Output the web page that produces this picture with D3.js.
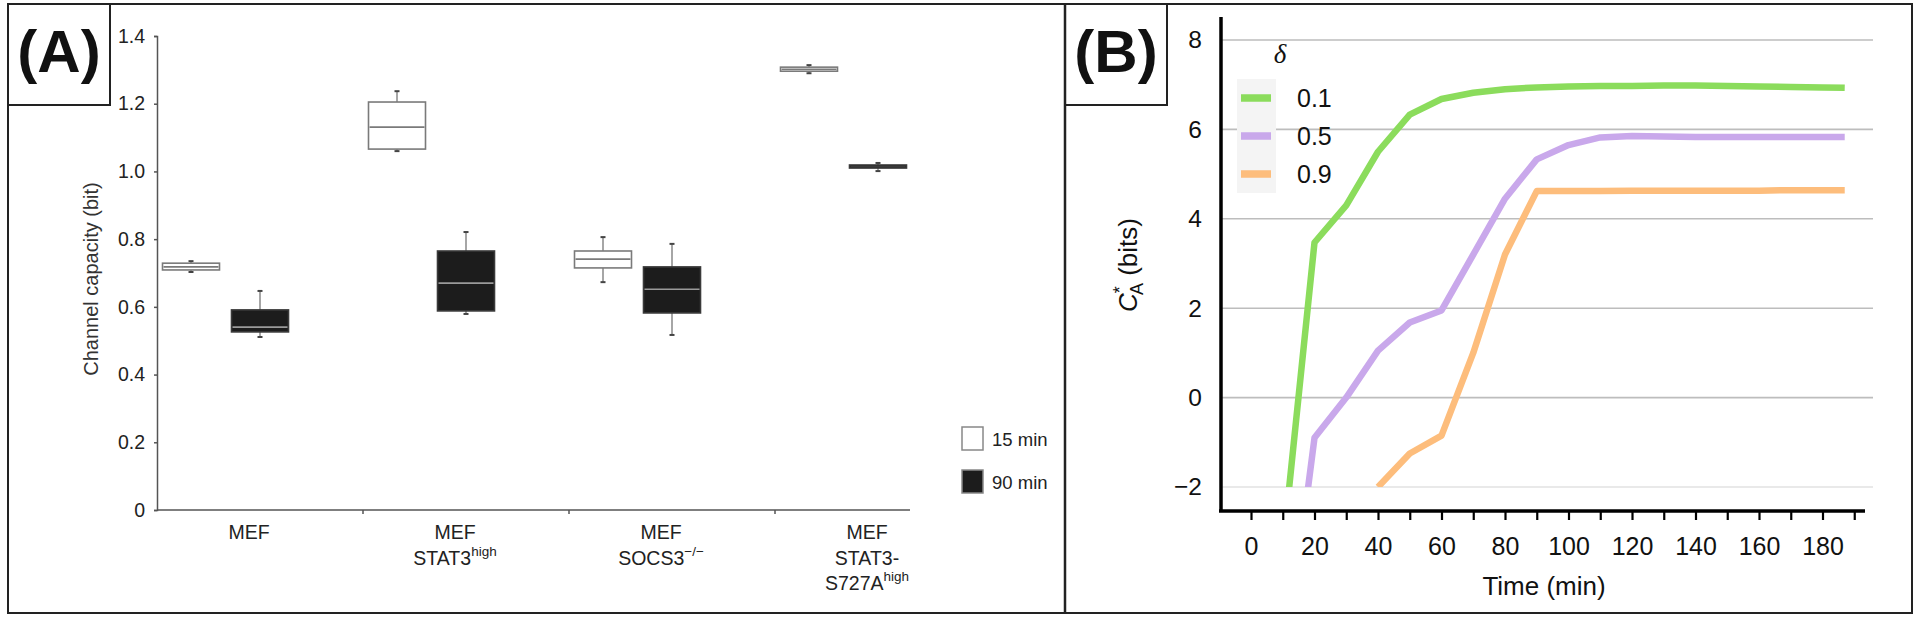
<!DOCTYPE html>
<html>
<head>
<meta charset="UTF-8">
<title>Channel capacity</title>
<script src="https://d3js.org/d3.v7.min.js"></script>
<style>
  body { margin: 0; background: #fff; }
  svg { display: block; font-family: "Liberation Sans", Arial, sans-serif; }
</style>
</head>
<body>
<div id="chart"></div>
<script>
// ---- panel A data: box stats [whisker low, q1, median, q3, whisker high]
const categories = ["MEF", "MEF STAT3high", "MEF SOCS3-/-", "MEF STAT3-S727Ahigh"];
const categoryLines = [
  [["MEF", ""]],
  [["MEF", ""], ["STAT3", "high"]],
  [["MEF", ""], ["SOCS3", "\u2212/\u2212"]],
  [["MEF", ""], ["STAT3-", ""], ["S727A", "high"]]
];
const timepoints = ["15 min", "90 min"];
const box15 = [
  [0.703, 0.709, 0.718, 0.729, 0.735],
  [1.060, 1.066, 1.131, 1.205, 1.237],
  [0.673, 0.715, 0.741, 0.765, 0.806],
  [1.290, 1.296, 1.302, 1.308, 1.314]
];
const box90 = [
  [0.511, 0.526, 0.540, 0.591, 0.647],
  [0.579, 0.588, 0.670, 0.765, 0.821],
  [0.517, 0.582, 0.652, 0.718, 0.786],
  [1.001, 1.010, 1.014, 1.019, 1.025]
];
const yTicksA = [0, 0.2, 0.4, 0.6, 0.8, 1.0, 1.2, 1.4];

// ---- panel B data
const times = [10, 20, 30, 40, 50, 60, 70, 80, 90, 100, 110, 120, 130, 140, 150, 160, 170, 180, 187];
const deltas = ["0.1", "0.5", "0.9"];
const capD01 = [-3.4, 3.47, 4.3, 5.5, 6.33, 6.68, 6.82, 6.9, 6.94, 6.96, 6.97, 6.97, 6.98, 6.98, 6.97, 6.96, 6.95, 6.94, 6.93];
const capD05 = [-6.4, -0.9, 0.0, 1.05, 1.68, 1.95, 3.2, 4.45, 5.33, 5.65, 5.82, 5.85, 5.84, 5.83, 5.83, 5.83, 5.83, 5.83, 5.83];
const capD09 = [null, null, null, -2.0, -1.25, -0.85, 1.0, 3.2, 4.62, 4.62, 4.62, 4.63, 4.63, 4.63, 4.63, 4.63, 4.64, 4.64, 4.64];
const lineColors = ["#8bdc5c", "#c9a8eb", "#fdbd7c"];
const yTicksB = [-2, 0, 2, 4, 6, 8];
const xTicksB = d3.range(0, 191, 10);

const W = 1920, H = 619;
const svg = d3.select("#chart").append("svg").attr("width", W).attr("height", H);

// ================= Panel A =================
const yA = d3.scaleLinear().domain([0, 1.4]).range([510, 36]);
const xA = d3.scaleBand().domain(categories).range([157, 981]);
const xSub = d3.scaleBand().domain(timepoints).range([5.5, 131.5]).paddingInner(12 / 69);

const gA = svg.append("g");

// y axis
gA.append("g")
  .attr("transform", "translate(157,0)")
  .call(d3.axisLeft(yA).tickValues(yTicksA).tickSize(3).tickPadding(9)
    .tickFormat(d => d === 0 ? "0" : d3.format(".1f")(d)))
  .call(g => g.select(".domain").attr("stroke", "#555").attr("stroke-width", 1.5))
  .call(g => g.selectAll(".tick line").attr("stroke", "#555").attr("stroke-width", 1.5))
  .call(g => g.selectAll(".tick text").attr("font-size", 19.5).attr("fill", "#222")
    .attr("font-family", "Liberation Sans, Arial, sans-serif"));

// x axis line and band ticks
gA.append("line").attr("x1", 157).attr("x2", 910).attr("y1", 510).attr("y2", 510)
  .attr("stroke", "#555").attr("stroke-width", 1.5);
gA.selectAll("line.bt").data(categories.slice(1)).join("line")
  .attr("class", "bt")
  .attr("x1", d => xA(d)).attr("x2", d => xA(d))
  .attr("y1", 510).attr("y2", 514)
  .attr("stroke", "#555").attr("stroke-width", 1.5);

// category labels
categories.forEach((c, i) => {
  const t = gA.append("text")
    .attr("text-anchor", "middle")
    .attr("font-size", 19.5).attr("fill", "#222");
  categoryLines[i].forEach((ln, j) => {
    const cx = xA(c) + xA.bandwidth() / 2 - 11;
    t.append("tspan").attr("x", cx).attr("y", 539 + j * 25.5).text(ln[0]);
    if (ln[1]) {
      t.append("tspan").attr("font-size", 13.5).attr("dy", -9).text(ln[1]);
    }
  });
});

// y label
gA.append("text")
  .attr("transform", "translate(98,279) rotate(-90)")
  .attr("text-anchor", "middle")
  .attr("font-size", 20).attr("fill", "#333")
  .text("Channel capacity (bit)");

// boxes
const boxSets = [box15, box90];
const boxStyle = [
  { fill: "#fff", stroke: "#7a7a7a", med: "#7a7a7a" },
  { fill: "#1c1c1c", stroke: "#3a3a3a", med: "#9a9a9a" }
];
timepoints.forEach((tp, k) => {
  const data = categories.map((c, i) => ({ c, s: boxSets[k][i] }));
  const g = gA.append("g");
  const bw = xSub.bandwidth();
  const cx = d => xA(d.c) + xSub(tp) + bw / 2;
  g.selectAll("line.wh").data(data).join("line")
    .attr("x1", cx).attr("x2", cx)
    .attr("y1", d => yA(d.s[0])).attr("y2", d => yA(d.s[4]))
    .attr("stroke", "#888").attr("stroke-width", 1.5);
  g.selectAll("line.capL").data(data).join("line")
    .attr("x1", d => cx(d) - 2.5).attr("x2", d => cx(d) + 2.5)
    .attr("y1", d => yA(d.s[0])).attr("y2", d => yA(d.s[0]))
    .attr("stroke", "#444").attr("stroke-width", 2);
  g.selectAll("line.capH").data(data).join("line")
    .attr("x1", d => cx(d) - 2.5).attr("x2", d => cx(d) + 2.5)
    .attr("y1", d => yA(d.s[4])).attr("y2", d => yA(d.s[4]))
    .attr("stroke", "#444").attr("stroke-width", 2);
  g.selectAll("rect").data(data).join("rect")
    .attr("x", d => xA(d.c) + xSub(tp)).attr("width", bw)
    .attr("y", d => yA(d.s[3])).attr("height", d => yA(d.s[1]) - yA(d.s[3]))
    .attr("fill", boxStyle[k].fill).attr("stroke", boxStyle[k].stroke).attr("stroke-width", 1.6);
  g.selectAll("line.med").data(data).join("line")
    .attr("x1", d => xA(d.c) + xSub(tp) + 1).attr("x2", d => xA(d.c) + xSub(tp) + bw - 1)
    .attr("y1", d => yA(d.s[2])).attr("y2", d => yA(d.s[2]))
    .attr("stroke", d => (yA(d.s[1]) - yA(d.s[3]) < 6) ? boxStyle[k].stroke : boxStyle[k].med)
    .attr("stroke-width", 1.6);
});

// legend A
timepoints.forEach((tp, k) => {
  const y0 = 427 + k * 43;
  gA.append("rect").attr("x", 962).attr("y", y0).attr("width", 21).attr("height", 23)
    .attr("fill", boxStyle[k].fill).attr("stroke", "#888").attr("stroke-width", 1.5);
  gA.append("text").attr("x", 992).attr("y", y0 + 19)
    .attr("font-size", 18.5).attr("fill", "#222").text(tp);
});

// ================= Panel B =================
const xB = d3.scaleLinear().domain([0, 180]).range([1251, 1822.5]);
const yB = d3.scaleLinear().domain([-2, 8]).range([487, 40]);
const gB = svg.append("g");

// grid
gB.selectAll("line.grid").data(yTicksB).join("line")
  .attr("x1", 1221).attr("x2", 1873)
  .attr("y1", d => yB(d)).attr("y2", d => yB(d))
  .attr("stroke", d => d === -2 ? "#e2e2e2" : "#bdbdbd").attr("stroke-width", 1.6);

// lines (clipped at the -2 gridline)
svg.append("clipPath").attr("id", "clipB").append("rect")
  .attr("x", 1221).attr("y", 0).attr("width", 700).attr("height", yB(-2));
const series = [capD01, capD05, capD09];
const line = d3.line()
  .defined(d => d[1] !== null)
  .x(d => xB(d[0])).y(d => yB(d[1]));
gB.append("g").attr("clip-path", "url(#clipB)")
  .selectAll("path").data(series).join("path")
  .attr("d", s => line(times.map((t, i) => [t, s[i]])))
  .attr("fill", "none")
  .attr("stroke", (s, i) => lineColors[i])
  .attr("stroke-width", 6.5)
  .attr("stroke-linejoin", "round");

// y axis
gB.append("g")
  .attr("transform", "translate(1221,0)")
  .call(d3.axisLeft(yB).tickValues(yTicksB).tickSize(0).tickPadding(19))
  .call(g => g.select(".domain").remove())
  .call(g => g.selectAll(".tick text").attr("font-size", 24.5).attr("fill", "#111")
    .attr("font-family", "Liberation Sans, Arial, sans-serif"));
gB.append("line").attr("x1", 1221).attr("x2", 1221).attr("y1", 17).attr("y2", 512)
  .attr("stroke", "#000").attr("stroke-width", 3.5);

// x axis
gB.append("g")
  .attr("transform", "translate(0,511)")
  .call(d3.axisBottom(xB).tickValues(xTicksB).tickSize(9).tickPadding(17)
    .tickFormat(d => d % 20 === 0 ? d : ""))
  .call(g => g.select(".domain").remove())
  .call(g => g.selectAll(".tick line").attr("stroke", "#000").attr("stroke-width", 2.2))
  .call(g => g.selectAll(".tick text").attr("font-size", 25).attr("fill", "#111")
    .attr("font-family", "Liberation Sans, Arial, sans-serif"));
gB.append("line").attr("x1", 1219).attr("x2", 1865).attr("y1", 511).attr("y2", 511)
  .attr("stroke", "#000").attr("stroke-width", 3.5);

// axis titles
gB.append("text").attr("x", 1544).attr("y", 595).attr("text-anchor", "middle")
  .attr("font-size", 26).attr("fill", "#111").text("Time (min)");
const yt = gB.append("text")
  .attr("transform", "translate(1137,265) rotate(-90)")
  .attr("text-anchor", "middle")
  .attr("font-size", 26).attr("fill", "#111");
yt.append("tspan").attr("font-style", "italic").text("C");
yt.append("tspan").attr("font-size", 18).attr("dy", -11).text("*");
yt.append("tspan").attr("font-size", 18).attr("dx", -9).attr("dy", 17).text("A");
yt.append("tspan").attr("dy", -6).text(" (bits)");

// legend B
gB.append("rect").attr("x", 1237).attr("y", 79).attr("width", 39).attr("height", 114)
  .attr("fill", "#f4f4f4");
gB.append("text").attr("x", 1280).attr("y", 63).attr("text-anchor", "middle")
  .attr("font-family", "Liberation Serif, serif").attr("font-style", "italic")
  .attr("font-size", 27).attr("fill", "#111").text("\u03b4");
deltas.forEach((d, i) => {
  const yy = 98 + i * 38;
  gB.append("line").attr("x1", 1241).attr("x2", 1271).attr("y1", yy).attr("y2", yy)
    .attr("stroke", lineColors[i]).attr("stroke-width", 7.5);
  gB.append("text").attr("x", 1297).attr("y", yy + 9)
    .attr("font-size", 25).attr("fill", "#111").text(d);
});

// ================= frames and panel labels =================
svg.append("rect").attr("x", 8).attr("y", 4).attr("width", 1904).attr("height", 609)
  .attr("fill", "none").attr("stroke", "#222").attr("stroke-width", 2);
svg.append("line").attr("x1", 1065).attr("x2", 1065).attr("y1", 4).attr("y2", 613)
  .attr("stroke", "#222").attr("stroke-width", 2.5);
[[8, "(A)"], [1065, "(B)"]].forEach(([x0, lab]) => {
  svg.append("path")
    .attr("d", `M${x0},105 H${x0 + 102} V4`)
    .attr("fill", "none").attr("stroke", "#222").attr("stroke-width", 2);
  svg.append("text").attr("x", x0 + 51).attr("y", 72).attr("text-anchor", "middle")
    .attr("font-size", 60).attr("font-weight", "bold").attr("fill", "#111").text(lab);
});
</script>
</body>
</html>
